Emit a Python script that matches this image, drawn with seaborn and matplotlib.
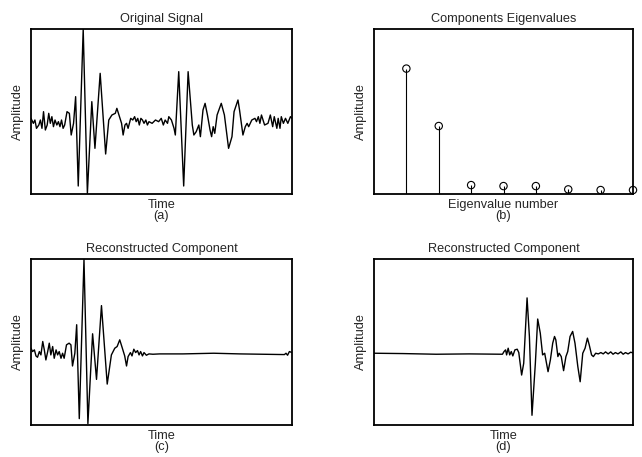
import numpy as np
import pandas as pd
import matplotlib
matplotlib.use("Agg")
import matplotlib.pyplot as plt
import seaborn as sns

# ---------------- data ----------------
# (a) original signal
t_orig = [0, 9, 15, 21, 30, 36, 42, 48, 55, 62, 68, 74, 80, 86, 92, 99, 105, 111, 117, 123,
          129, 138, 147, 154, 163, 171, 181, 200, 216, 233, 245, 265, 286, 298, 310, 323,
          329, 339, 347, 353, 360, 366, 372, 382, 390, 397, 403, 409, 415, 421, 427, 433,
          440, 446, 452, 464, 477, 489, 499, 507, 514, 523, 528, 538, 548, 553, 566, 585,
          602, 618, 624, 633, 643, 649, 659, 667, 676, 686, 692, 698, 704, 713, 729, 741,
          757, 770, 778, 793, 799, 812, 821, 828, 834, 846, 858, 864, 871, 877, 883, 895,
          908, 917, 926, 932, 942, 947, 954, 959, 967, 975, 984, 994, 1000]
a_orig = [0.15, 0.00, 0.10, -0.15, -0.05, 0.10, -0.15, 0.35, -0.20, -0.05, 0.30, 0.00, 0.20,
          -0.10, 0.10, -0.05, 0.05, -0.10, 0.10, -0.15, -0.05, 0.35, 0.30, -0.35, 0.00, 0.80,
          -1.88, 2.82, -2.10, 0.65, -0.75, 1.50, -0.92, 0.10, 0.25, 0.30, 0.45, 0.20, 0.00,
          -0.35, -0.05, 0.00, -0.15, 0.15, 0.10, 0.20, 0.05, 0.15, -0.05, 0.15, 0.10, 0.00,
          0.10, -0.05, 0.05, 0.00, 0.10, 0.05, 0.15, -0.05, 0.10, 0.00, 0.20, 0.10, -0.15,
          -0.35, 1.55, -1.88, 1.55, -0.05, -0.35, -0.25, -0.05, -0.40, 0.40, 0.60, 0.25,
          -0.20, -0.40, -0.10, -0.30, 0.25, 0.60, 0.25, -0.75, -0.40, 0.35, 0.70, 0.40,
          -0.35, -0.10, 0.00, -0.10, 0.10, 0.15, 0.05, 0.20, 0.00, 0.25, -0.05, 0.00, 0.25,
          -0.10, 0.20, -0.15, 0.15, -0.15, 0.20, 0.00, 0.15, 0.00, 0.20, 0.15]

# (b) eigenvalues
eig_number = [1, 2, 3, 4, 5, 6, 7, 8]
eig_value = [38.0, 20.6, 2.7, 2.4, 2.4, 1.4, 1.2, 1.2]

# (c) first reconstructed component
t_c = [0, 6, 13, 19, 25, 32, 38, 45, 51, 57, 64, 70, 76, 83, 89, 96, 102, 108, 115, 121,
       127, 136, 146, 153, 159, 168, 175, 185, 203, 218, 236, 251, 270, 292, 308, 321, 330,
       340, 350, 359, 366, 372, 381, 387, 394, 401, 408, 414, 420, 427, 433, 442, 452, 467,
       493, 582, 700, 800, 971, 977, 983, 990, 1000]
a_c = [0.17, 0.07, 0.12, -0.06, -0.10, 0.07, -0.03, 0.37, 0.12, -0.18, 0.07, 0.32, -0.03,
       0.22, -0.13, 0.12, -0.03, 0.07, -0.13, 0.02, -0.13, 0.27, 0.32, 0.27, -0.36, 0.02,
       0.87, -1.93, 2.82, -2.08, 0.60, -0.76, 1.44, -0.90, -0.03, 0.17, 0.22, 0.42, 0.17,
       -0.06, -0.36, -0.08, 0.04, -0.06, 0.14, 0.04, 0.10, -0.03, 0.07, -0.06, 0.04, -0.04,
       0.00, -0.01, 0.00, 0.00, 0.02, 0.00, -0.02, 0.02, -0.04, 0.07, 0.04]

# (d) second reconstructed component
t_d = [0, 112, 240, 368, 496, 502, 508, 512, 518, 524, 530, 536, 544, 553, 559, 570, 578,
       591, 600, 610, 623, 632, 642, 651, 659, 672, 681, 690, 697, 702, 710, 715, 723, 732,
       741, 748, 757, 767, 776, 787, 796, 806, 815, 824, 831, 840, 847, 856, 866, 876, 885,
       894, 904, 914, 923, 932, 942, 953, 962, 971, 981, 991, 1000]
a_d = [0.02, 0.01, -0.01, 0.00, -0.01, 0.07, 0.12, -0.03, 0.17, -0.03, 0.07, -0.06, 0.12,
       0.14, 0.04, -0.63, -0.28, 1.67, 0.52, -1.83, -0.28, 1.04, 0.62, -0.03, 0.02, -0.53,
       -0.18, 0.32, 0.52, 0.42, -0.08, 0.02, -0.08, -0.50, -0.08, 0.07, 0.52, 0.67, 0.32,
       -0.38, -0.83, 0.02, 0.17, 0.47, 0.27, -0.03, -0.08, 0.02, 0.00, 0.04, 0.00, 0.06,
       0.00, 0.06, -0.01, 0.04, 0.00, 0.06, -0.01, 0.04, 0.00, 0.05, 0.03]

titles = ["Original Signal", "Components Eigenvalues",
          "Reconstructed Component", "Reconstructed Component"]
xlabels = ["Time\n(a)", "Eigenvalue number\n(b)", "Time\n(c)", "Time\n(d)"]
ylabel = "Amplitude"

# ---------------- style ----------------
sns.set_style("white")
plt.rcParams["font.family"] = ["Liberation Sans", "DejaVu Sans"]
FS = 9.2

fig = plt.figure(figsize=(6.42, 4.57), dpi=100)
W, H = 642, 457


def make_ax(x0, y0, x1, y1):
    return fig.add_axes([x0 / W, 1 - y1 / H, (x1 - x0) / W, (y1 - y0) / H])


ax_a = make_ax(31, 29, 292, 194)
ax_b = make_ax(374, 29, 633, 194)
ax_c = make_ax(31, 259, 292, 425)
ax_d = make_ax(374, 259, 633, 425)
axes = [ax_a, ax_b, ax_c, ax_d]

YLIM = (-2.12, 2.83)

for ax, t, a in [(ax_a, t_orig, a_orig), (ax_c, t_c, a_c), (ax_d, t_d, a_d)]:
    df = pd.DataFrame({"t": t, "a": a})
    sns.lineplot(data=df, x="t", y="a", ax=ax, color="black", linewidth=1.0,
                 sort=False, estimator=None)
    ax.set_xlim(0, 1000)
    ax.set_ylim(*YLIM)

# stem plot
dfb = pd.DataFrame({"n": eig_number, "v": eig_value})
ax_b.vlines(dfb["n"], 0, dfb["v"], color="black", linewidth=0.8)
sns.scatterplot(data=dfb, x="n", y="v", ax=ax_b, marker="o", s=28,
                facecolor="none", edgecolor="black", linewidth=0.8, clip_on=False,
                zorder=5)
ax_b.set_xlim(0, 8)
ax_b.set_ylim(0, 50)

for ax, title, xl in zip(axes, titles, xlabels):
    ax.set_title(title, fontsize=FS, pad=5)
    ax.set_xlabel(xl, fontsize=FS, labelpad=3.5, linespacing=0.95)
    ax.set_ylabel(ylabel, fontsize=FS, labelpad=5)
    ax.set_xticks([])
    ax.set_yticks([])
    for sp in ax.spines.values():
        sp.set_visible(True)
        sp.set_color("black")
        sp.set_linewidth(1.3)
    ax.set_facecolor("white")

fig.savefig("out.png", dpi=100, facecolor="white")
